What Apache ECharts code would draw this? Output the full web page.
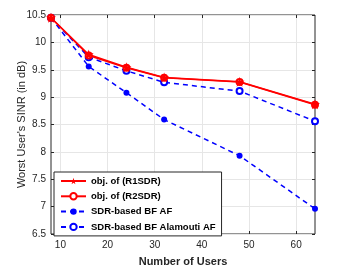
<!DOCTYPE html>
<html><head><meta charset="utf-8">
<script src="https://cdn.jsdelivr.net/npm/echarts@6/dist/echarts.min.js"></script>
<style>html,body{margin:0;padding:0;background:#fff}#c{width:341px;height:270px}</style>
</head><body><div id="c"></div>
<script>
const users = [8, 16, 24, 32, 48, 64];
const r1sdr = [10.45, 9.78, 9.545, 9.36, 9.28, 8.87];
const r2sdr = [10.45, 9.76, 9.535, 9.355, 9.275, 8.86];
const sdrAF = [10.45, 9.56, 9.08, 8.59, 7.93, 6.96];
const sdrAlamouti = [10.45, 9.73, 9.48, 9.27, 9.11, 8.56];
const xTicks = [10, 20, 30, 40, 50, 60];
const seriesNames = ['obj. of (R1SDR)', 'obj. of (R2SDR)', 'SDR-based BF AF', 'SDR-based BF Alamouti AF'];

const pair = a => users.map((u, i) => [u, a[i]]);
const font = 'Liberation Sans, Arial, sans-serif';
const chart = echarts.init(document.getElementById('c'), null, {renderer: 'canvas'});
const axisCol = '#262626';
chart.setOption({
  animation: false,
  textStyle: {fontFamily: font},
  grid: {left: 51, right: 26, top: 15, bottom: 36, show: true, borderColor: '#262626', borderWidth: 1,
         backgroundColor: 'transparent', outerBoundsMode: 'none', containLabel: false},
  legend: {
    orient: 'vertical', left: 54, top: 172, itemWidth: 25, itemHeight: 8, itemGap: 5.3, z: 20,
    padding: [4, 6, 4, 6], borderColor: '#262626', borderWidth: 1, backgroundColor: '#fff',
    textStyle: {fontSize: 9.5, color: '#000', fontFamily: font, fontWeight: 'bold'},
    data: seriesNames
  },
  xAxis: [{
    type: 'value', min: 8, max: 64,
    name: 'Number of Users', nameLocation: 'middle', nameGap: 22, nameMoveOverlap: false,
    nameTextStyle: {fontSize: 11, color: axisCol, fontWeight: 'bold'},
    axisLine: {show: false},
    axisTick: {show: true, inside: true, length: 3, lineStyle: {color: axisCol}, customValues: xTicks},
    axisLabel: {fontSize: 10, color: axisCol, customValues: xTicks, margin: 6},
    splitLine: {show: false}
  }, {
    type: 'value', min: 8, max: 64, position: 'top',
    axisLine: {show: false}, axisLabel: {show: false},
    axisTick: {show: true, inside: true, length: 3, lineStyle: {color: axisCol}, customValues: xTicks},
    splitLine: {show: false}
  }],
  yAxis: [{
    type: 'value', min: 6.5, max: 10.5, interval: 0.5,
    name: "Worst User's SINR (in dB)", nameLocation: 'middle', nameGap: 24, nameMoveOverlap: false,
    nameTextStyle: {fontSize: 11, color: axisCol},
    axisLine: {show: false},
    axisTick: {show: true, inside: true, length: 3, lineStyle: {color: axisCol}},
    axisLabel: {fontSize: 10, color: axisCol, margin: 5},
    splitLine: {show: true, lineStyle: {color: '#e6e6e6'}}
  }, {
    type: 'value', min: 6.5, max: 10.5, interval: 0.5, position: 'right',
    axisLine: {show: false}, axisLabel: {show: false},
    axisTick: {show: true, inside: true, length: 3, lineStyle: {color: axisCol}},
    splitLine: {show: false}
  }],
  series: [
    {name: 'grid', type: 'line', data: [], z: 0, silent: true,
     markLine: {silent: true, symbol: 'none', label: {show: false}, animation: false, z: 0,
       lineStyle: {color: '#e6e6e6', width: 1, type: 'solid'},
       data: xTicks.map(v => ({xAxis: v}))}},
    {name: seriesNames[1], type: 'line', data: pair(r2sdr), symbol: 'emptyCircle', symbolSize: 6,
     lineStyle: {color: '#ff0000', width: 1.5}, itemStyle: {color: '#ff0000', borderWidth: 1.3}, z: 3},
    {name: seriesNames[0], type: 'line', data: pair(r1sdr), symbol: 'path://M50,0 L61,35 L98,35 L68,57 L79,91 L50,70 L21,91 L32,57 L2,35 L39,35 Z', symbolSize: 10,
     lineStyle: {color: '#ff0000', width: 1.5}, itemStyle: {color: '#ff0000'}, z: 4},
    {name: seriesNames[2], type: 'line', data: pair(sdrAF), symbol: 'circle', symbolSize: 6,
     lineStyle: {color: '#0000ff', width: 1.5, type: [5, 4]}, itemStyle: {color: '#0000ff'}, z: 2},
    {name: seriesNames[3], type: 'line', data: pair(sdrAlamouti), symbol: 'emptyCircle', symbolSize: 6,
     lineStyle: {color: '#0000ff', width: 1.5, type: [5, 4]}, itemStyle: {color: '#0000ff', borderWidth: 1.3}, z: 2}
  ]
});
</script></body></html>
